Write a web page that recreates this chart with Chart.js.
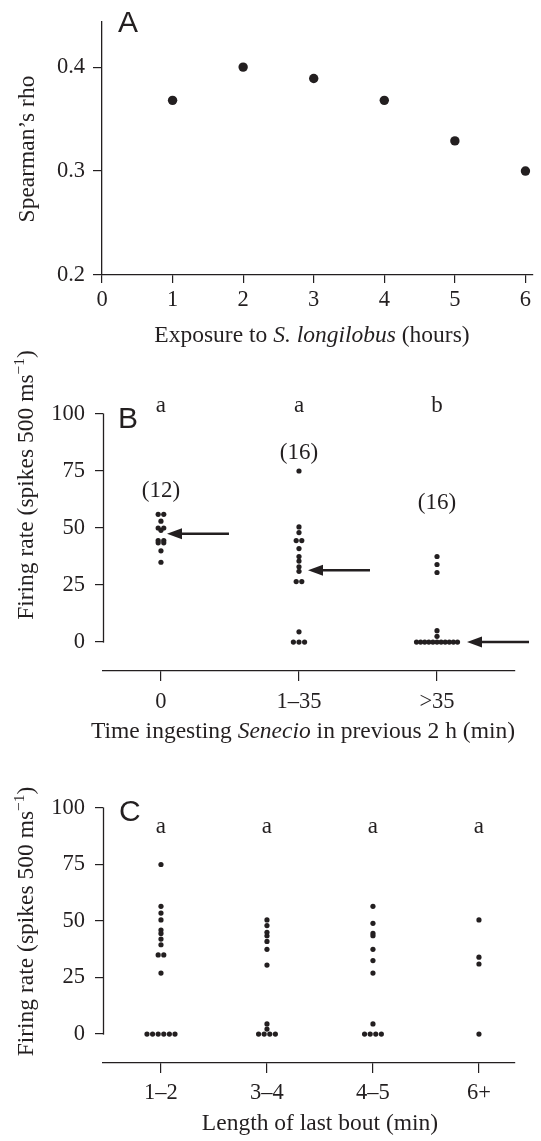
<!DOCTYPE html>
<html>
<head>
<meta charset="utf-8">
<script src="https://cdn.jsdelivr.net/npm/chart.js@4.4.1/dist/chart.umd.min.js"></script>
<style>
    html, body { margin: 0; padding: 0; background: #fff; }
    .panel { position: absolute; left: 0; width: 541px; }
</style>
</head>
<body>
<div class="panel" style="top:0;height:360px"><canvas id="chartA"></canvas></div>
<div class="panel" style="top:330px;height:430px"><canvas id="chartB"></canvas></div>
<div class="panel" style="top:760px;height:381px"><canvas id="chartC"></canvas></div>
<script>
// Panel A - Spearman's rho by hours of exposure
const exposureHours = [1, 2, 3, 4, 5, 6];
const spearmanRho = [0.368, 0.400, 0.389, 0.368, 0.329, 0.300];
const hourTicks = [0, 1, 2, 3, 4, 5, 6];
const rhoTicks = [0.2, 0.3, 0.4];

// Panel B - firing rate by time ingesting Senecio
const ingestCategories = ['0', '1–35', '>35'];
const ingestGroup0 = [56, 56, 53, 50, 50, 49, 44.5, 44.5, 43.5, 43.5, 40, 35];
const ingestGroup1 = [75, 50.5, 48, 44.5, 44.5, 41, 37.5, 35.5, 33, 31, 26.5, 26.5, 4.5, 0, 0, 0];
const ingestGroup2 = [37.5, 34, 30.5, 5, 2.5, 0, 0, 0, 0, 0, 0, 0, 0, 0, 0, 0];
const ingestLetters = ['a', 'a', 'b'];
const ingestArrows = [47.5, 31.5, 0];

// Panel C - firing rate by length of last bout
const boutCategories = ['1–2', '3–4', '4–5', '6+'];
const boutGroup0 = [75, 56.5, 53.5, 50.5, 46, 44.5, 42, 39.5, 35, 35, 27, 0, 0, 0, 0, 0, 0];
const boutGroup1 = [50.5, 48, 45, 43.5, 41, 37.5, 30.5, 4.5, 2.2, 0, 0, 0, 0];
const boutGroup2 = [56.5, 49, 44.5, 43.5, 37.5, 32.5, 27, 4.5, 0, 0, 0, 0];
const boutGroup3 = [50.5, 34, 31, 0];
const boutLetters = ['a', 'a', 'a', 'a'];

const rateTicks = [0, 25, 50, 75, 100];

const ink = '#231f20';
const serif = "'Liberation Serif', 'Times New Roman', serif";
const sans = "'Liberation Sans', Arial, sans-serif";
const TICK_SIZE = 22.5;
const TITLE_SIZE = 23.5;

// equal values sit side by side in a row, centred on the category
function dotPoints(values, group, pxPerUnit) {
    const rows = new Map();
    values.forEach(v => {
        if (!rows.has(v)) rows.set(v, []);
        rows.get(v).push(v);
    });
    const pts = [];
    rows.forEach(row => {
        const n = row.length;
        const step = n > 1 ? Math.min(5.6, 41 / (n - 1)) : 0;
        row.forEach((v, i) => {
            pts.push({ x: group + ((i - (n - 1) / 2) * step) / pxPerUnit, y: v });
        });
    });
    return pts;
}

function drawRuns(ctx, runs, x, y, size) {
    let total = 0;
    const parts = runs.map(r => {
        const s = r.sup ? size * 0.66 : size;
        const font = (r.italic ? 'italic ' : '') + s + 'px ' + serif;
        ctx.font = font;
        const w = ctx.measureText(r.text).width;
        total += w;
        return { text: r.text, sup: r.sup, font, w };
    });
    let cx = x - total / 2;
    ctx.textAlign = 'left';
    ctx.textBaseline = 'alphabetic';
    parts.forEach(p => {
        ctx.font = p.font;
        ctx.fillText(p.text, cx, p.sup ? y - size * 0.4 : y);
        cx += p.w;
    });
}

function drawArrow(ctx, tipX, y, length) {
    const head = 15, half = 5.5;
    ctx.lineWidth = 2.5;
    ctx.beginPath();
    ctx.moveTo(tipX + head - 2, y);
    ctx.lineTo(tipX + length, y);
    ctx.stroke();
    ctx.beginPath();
    ctx.moveTo(tipX, y);
    ctx.lineTo(tipX + head, y - half);
    ctx.lineTo(tipX + head, y + half);
    ctx.closePath();
    ctx.fill();
}

const panelDecor = {
    id: 'panelDecor',
    afterDraw(chart, args, opts) {
        const ctx = chart.ctx;
        const xs = chart.scales.x;
        const ys = chart.scales.y;
        ctx.save();
        ctx.fillStyle = ink;
        ctx.strokeStyle = ink;

        // y axis that stops at 0 and 100
        if (opts.yLine) {
            const x = Math.round(chart.chartArea.left) + 0.5;
            ctx.lineWidth = 1.3;
            ctx.beginPath();
            ctx.moveTo(x, ys.getPixelForValue(opts.yLine[0]) + 0.6);
            ctx.lineTo(x, ys.getPixelForValue(opts.yLine[1]) - 0.6);
            ctx.stroke();
        }

        ctx.font = '30px ' + sans;
        ctx.textAlign = 'left';
        ctx.textBaseline = 'alphabetic';
        ctx.fillText(opts.letter, opts.letterX, opts.letterY);

        drawRuns(ctx, opts.xTitle, opts.xTitleX, opts.xTitleY, TITLE_SIZE);

        ctx.save();
        ctx.translate(opts.yTitleX, opts.yTitleY);
        ctx.rotate(-Math.PI / 2);
        drawRuns(ctx, opts.yTitle, 0, 0, TITLE_SIZE);
        ctx.restore();

        ctx.font = '23px ' + serif;
        ctx.textAlign = 'center';
        ctx.textBaseline = 'alphabetic';
        (opts.groupLetters || []).forEach((t, i) => {
            ctx.fillText(t, xs.getPixelForValue(i), ys.getPixelForValue(opts.groupLetterAt));
        });
        (opts.counts || []).forEach((n, i) => {
            ctx.fillText('(' + n + ')', xs.getPixelForValue(i), ys.getPixelForValue(opts.countAt[i]));
        });
        (opts.arrows || []).forEach((v, i) => {
            drawArrow(ctx, xs.getPixelForValue(i) + opts.arrowTip[i], ys.getPixelForValue(v), 62);
        });
        ctx.restore();
    }
};

function axisStyle(tickLength, padding, extra) {
    return Object.assign({
        type: 'linear',
        grid: { drawOnChartArea: false, drawTicks: true, tickLength: tickLength, color: ink, lineWidth: 1.2 },
        border: { display: true, color: ink, width: 1.3 },
        ticks: { font: { family: serif, size: TICK_SIZE }, color: ink, padding: padding, maxRotation: 0, autoSkip: false }
    }, extra);
}

const baseOptions = {
    responsive: true,
    maintainAspectRatio: false,
    animation: false,
    events: []
};

// Panel A
new Chart(document.getElementById('chartA'), {
    type: 'scatter',
    data: {
        datasets: [{
            data: exposureHours.map((h, i) => ({ x: h, y: spearmanRho[i] })),
            pointRadius: 4.7,
            backgroundColor: ink,
            borderWidth: 0
        }]
    },
    options: Object.assign({}, baseOptions, {
        layout: { padding: { top: 22, right: 8.5, left: 0, bottom: 0 } },
        plugins: {
            legend: { display: false },
            tooltip: { enabled: false },
            panelDecor: {
                letter: 'A', letterX: 118, letterY: 32,
                xTitle: [{ text: 'Exposure to ' }, { text: 'S. longilobus', italic: true }, { text: ' (hours)' }],
                xTitleX: 312, xTitleY: 342,
                yTitle: [{ text: 'Spearman’s rho' }],
                yTitleX: 34, yTitleY: 149
            }
        },
        scales: {
            x: axisStyle(8, 3.5, {
                min: 0, max: 6.1,
                afterBuildTicks: s => { s.ticks = hourTicks.map(v => ({ value: v })); },
                afterFit: s => { s.height = 85; }
            }),
            y: axisStyle(9, 8, {
                min: 0.2, max: 0.4434,
                afterBuildTicks: s => { s.ticks = rhoTicks.map(v => ({ value: v })); },
                afterFit: s => { s.width = 102; }
            })
        }
    }),
    plugins: [panelDecor]
});

// Panel B
const B_PX_PER_UNIT = 138;
new Chart(document.getElementById('chartB'), {
    type: 'scatter',
    data: {
        datasets: [ingestGroup0, ingestGroup1, ingestGroup2].map((g, i) => ({
            data: dotPoints(g, i, B_PX_PER_UNIT),
            pointRadius: 2.6,
            backgroundColor: ink,
            borderWidth: 0
        }))
    },
    options: Object.assign({}, baseOptions, {
        layout: { padding: { top: 84, right: 26, left: 0, bottom: 0 } },
        plugins: {
            legend: { display: false },
            tooltip: { enabled: false },
            panelDecor: {
                letter: 'B', letterX: 118, letterY: 98,
                xTitle: [{ text: 'Time ingesting ' }, { text: 'Senecio', italic: true }, { text: ' in previous 2 h (min)' }],
                xTitleX: 303, xTitleY: 408,
                yTitle: [{ text: 'Firing rate (spikes 500 ms' }, { text: '−1', sup: true }, { text: ')' }],
                yTitleX: 33, yTitleY: 155,
                yLine: [0, 100],
                groupLetters: ingestLetters, groupLetterAt: 100.9,
                counts: [ingestGroup0.length, ingestGroup1.length, ingestGroup2.length],
                countAt: [63.6, 80.1, 58.3],
                arrows: ingestArrows, arrowTip: [6, 9, 30]
            }
        },
        scales: {
            x: axisStyle(10, 7.5, {
                min: -0.42, max: 2.565,
                afterBuildTicks: s => { s.ticks = ingestCategories.map((c, i) => ({ value: i })); },
                ticks: { font: { family: serif, size: TICK_SIZE }, color: ink, padding: 7.5, maxRotation: 0, autoSkip: false,
                    callback: v => ingestCategories[v] },
                afterFit: s => { s.height = 89; }
            }),
            y: axisStyle(8, 10, {
                min: -12.7, max: 100,
                border: { display: false },
                afterBuildTicks: s => { s.ticks = rateTicks.map(v => ({ value: v })); },
                afterFit: s => { s.width = 103; }
            })
        }
    }),
    plugins: [panelDecor]
});

// Panel C
const C_PX_PER_UNIT = 106;
new Chart(document.getElementById('chartC'), {
    type: 'scatter',
    data: {
        datasets: [boutGroup0, boutGroup1, boutGroup2, boutGroup3].map((g, i) => ({
            data: dotPoints(g, i, C_PX_PER_UNIT),
            pointRadius: 2.6,
            backgroundColor: ink,
            borderWidth: 0
        }))
    },
    options: Object.assign({}, baseOptions, {
        layout: { padding: { top: 48, right: 26, left: 0, bottom: 0 } },
        plugins: {
            legend: { display: false },
            tooltip: { enabled: false },
            panelDecor: {
                letter: 'C', letterX: 119, letterY: 61,
                xTitle: [{ text: 'Length of last bout (min)' }],
                xTitleX: 320, xTitleY: 370,
                yTitle: [{ text: 'Firing rate (spikes 500 ms' }, { text: '−1', sup: true }, { text: ')' }],
                yTitleX: 33, yTitleY: 161.5,
                yLine: [0, 100],
                groupLetters: boutLetters, groupLetterAt: 89.1
            }
        },
        scales: {
            x: axisStyle(10, 6.5, {
                min: -0.547, max: 3.34,
                afterBuildTicks: s => { s.ticks = boutCategories.map((c, i) => ({ value: i })); },
                ticks: { font: { family: serif, size: TICK_SIZE }, color: ink, padding: 6.5, maxRotation: 0, autoSkip: false,
                    callback: v => boutCategories[v] },
                afterFit: s => { s.height = 78; }
            }),
            y: axisStyle(8, 10, {
                min: -12.8, max: 100,
                border: { display: false },
                afterBuildTicks: s => { s.ticks = rateTicks.map(v => ({ value: v })); },
                afterFit: s => { s.width = 103; }
            })
        }
    }),
    plugins: [panelDecor]
});
</script>
</body>
</html>
